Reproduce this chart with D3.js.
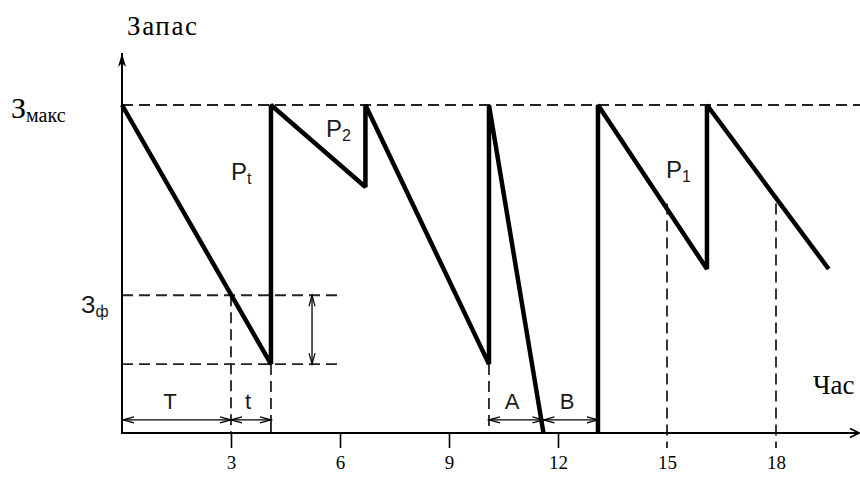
<!DOCTYPE html>
<html>
<head>
<meta charset="utf-8">
<script src="https://cdn.jsdelivr.net/npm/d3@7"></script>
<style>
  body { margin: 0; background: #fff; }
  svg { display: block; }
  .serif { font-family: "Liberation Serif", "Times New Roman", serif; fill: #000; }
  .sans { font-family: "Liberation Sans", Arial, sans-serif; fill: #1a1a1a; }
</style>
</head>
<body>
<div id="plot"></div>
<script>
// stock level over time (hours); null breaks the line while stock is out
var times = [0, 4.1, 4.1, 6.7, 6.7, 10.1, 10.1, 11.6, 11.6, 13.1, 13.1, 16.1, 16.1, 19.45];
var stock = [100, 21, 100, 75, 100, 21, 100, 0, null, 0, 100, 50, 100, 50];

var tickValues = [3, 6, 9, 12, 15, 18];
var zMax = 100, zF = 42, zMin = 21;
var tT = 3, tt = 4.1, tA = 10.1, tZero = 11.6, tB = 13.1;
var guideTimes = [15, 18];
var guideStock = [70, 70];

var width = 860, height = 477;

var svg = d3.select("#plot")
  .append("svg")
  .attr("width", width)
  .attr("height", height);

var x = d3.scaleLinear().domain([0, 21]).range([122, 885]);
var y = d3.scaleLinear().domain([0, 100]).range([433, 105]);

var defs = svg.append("defs");
defs.append("marker")
  .attr("id", "axArrowY")
  .attr("viewBox", "-16 -6 18 12")
  .attr("markerUnits", "userSpaceOnUse")
  .attr("markerWidth", 18).attr("markerHeight", 12)
  .attr("refX", 0).attr("refY", 0)
  .attr("orient", "auto")
  .append("path")
  .attr("d", "M0,0L-14,-4L-10,0L-14,4Z")
  .style("fill", "#000");
defs.append("marker")
  .attr("id", "axArrowX")
  .attr("viewBox", "-12 -6 14 12")
  .attr("markerUnits", "userSpaceOnUse")
  .attr("markerWidth", 14).attr("markerHeight", 12)
  .attr("refX", 0).attr("refY", 0)
  .attr("orient", "auto")
  .append("path")
  .attr("d", "M-9,-4.5L0,0L-9,4.5")
  .style("fill", "none").style("stroke", "#000").style("stroke-width", 1.6);
defs.append("marker")
  .attr("id", "dimArrow")
  .attr("viewBox", "-14 -6 16 12")
  .attr("markerUnits", "userSpaceOnUse")
  .attr("markerWidth", 16).attr("markerHeight", 12)
  .attr("refX", 0).attr("refY", 0)
  .attr("orient", "auto-start-reverse")
  .append("path")
  .attr("d", "M-11,-3L0,0L-11,3")
  .style("fill", "none").style("stroke", "#000").style("stroke-width", 1.2);

var dash = "11,6";

// dashed guides
function dashed(x1, y1, x2, y2) {
  svg.append("line")
    .attr("x1", x1).attr("y1", y1).attr("x2", x2).attr("y2", y2)
    .style("stroke", "#222").style("stroke-width", 1.8)
    .style("stroke-dasharray", dash);
}
dashed(x(0), y(zMax), width, y(zMax));
dashed(x(0), y(zF), x(6), y(zF));
dashed(x(0), y(zMin), x(6), y(zMin));
dashed(x(tT), y(zF), x(tT), y(0));
dashed(x(tt), y(zMin), x(tt), y(4));
dashed(x(tA), y(zMin), x(tA), y(0));
guideTimes.forEach(function(t, i) {
  dashed(x(t), y(guideStock[i]), x(t), y(0) + 15);
});

// axes
var axis = svg.append("g")
  .attr("transform", "translate(0," + y(0) + ")")
  .call(d3.axisBottom(x).tickValues(tickValues).tickSize(15).tickSizeOuter(0).tickPadding(8));
axis.attr("font-family", null).attr("font-size", null);
axis.select(".domain").remove();
axis.selectAll(".tick line")
  .style("stroke", "#000").style("stroke-width", 1.6)
  .style("opacity", function(d) { return guideTimes.indexOf(d) >= 0 ? 0 : 1; });
axis.selectAll(".tick text")
  .style("font-family", '"Liberation Serif", "Times New Roman", serif')
  .style("font-size", "19px")
  .style("fill", "#000");

svg.append("line")
  .attr("x1", x(0)).attr("y1", y(0)).attr("x2", width - 1).attr("y2", y(0))
  .style("stroke", "#000").style("stroke-width", 2)
  .attr("marker-end", "url(#axArrowX)");
svg.append("line")
  .attr("x1", x(0)).attr("y1", y(0) + 1).attr("x2", x(0)).attr("y2", 53)
  .style("stroke", "#000").style("stroke-width", 2)
  .attr("marker-end", "url(#axArrowY)");

// stock curve
var pts = times.map(function(t, i) { return {t: t, q: stock[i]}; });
svg.append("path")
  .datum(pts)
  .attr("d", d3.line()
    .defined(function(d) { return d.q != null; })
    .x(function(d) { return x(d.t); })
    .y(function(d) { return y(d.q); }))
  .style("fill", "none")
  .style("stroke", "#000")
  .style("stroke-width", 4.5)
  .style("stroke-linejoin", "bevel");

// dimension arrows
function dim(x1, y1, x2, y2) {
  svg.append("line")
    .attr("x1", x1).attr("y1", y1).attr("x2", x2).attr("y2", y2)
    .style("stroke", "#000").style("stroke-width", 1.3)
    .attr("marker-start", "url(#dimArrow)")
    .attr("marker-end", "url(#dimArrow)");
}
var yDim = y(4);
dim(x(0) + 1, yDim, x(tT), yDim);
dim(x(tT), yDim, x(tt), yDim);
dim(x(tA), yDim, x(tZero), yDim);
dim(x(tZero), yDim, x(tB), yDim);
dim(x(5.23), y(zF), x(5.23), y(zMin));
svg.append("line")
  .attr("x1", x(tt)).attr("y1", yDim).attr("x2", x(tt)).attr("y2", y(0))
  .style("stroke", "#000").style("stroke-width", 1.6);

// labels
svg.append("text").attr("class", "serif").attr("x", 127).attr("y", 35)
  .style("font-size", "27px").style("letter-spacing", "1.6px").text("Запас");
var zm = svg.append("text").attr("class", "serif").attr("x", 11).attr("y", 118)
  .style("font-size", "30px");
zm.append("tspan").text("З");
zm.append("tspan").attr("dy", 4).style("font-size", "20px").text("макс");
svg.append("text").attr("class", "serif").attr("x", 813).attr("y", 394)
  .style("font-size", "27px").text("Час");

function subLabel(px, py, main, sub) {
  var t = svg.append("text").attr("class", "sans").attr("x", px).attr("y", py)
    .style("font-size", "24px");
  t.append("tspan").text(main);
  t.append("tspan").attr("dy", 4).style("font-size", "16px").text(sub);
}
subLabel(81, 313, "З", "ф");
subLabel(231, 180, "P", "t");
subLabel(326, 137, "P", "2");
subLabel(666, 178, "P", "1");

function plain(px, py, s) {
  svg.append("text").attr("class", "sans").attr("x", px).attr("y", py)
    .attr("text-anchor", "middle").style("font-size", "22px").text(s);
}
plain(170, 409, "T");
plain(248, 409, "t");
plain(512, 409, "A");
plain(567, 409, "B");
</script>
</body>
</html>
